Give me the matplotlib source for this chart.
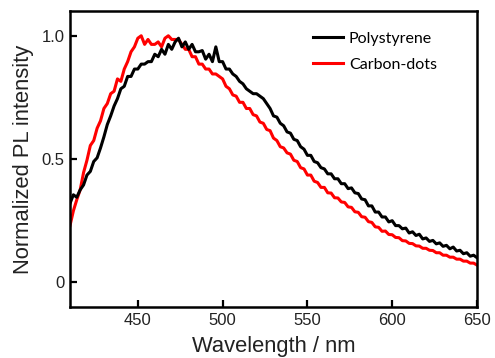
import numpy as np
import matplotlib
matplotlib.use("Agg")
import matplotlib.pyplot as plt

wavelength = np.arange(410, 651, 2)

polystyrene = [
    0.32, 0.355, 0.345, 0.375, 0.395, 0.435, 0.45, 0.49, 0.505, 0.545,      # 410-428
    0.59, 0.64, 0.675, 0.715, 0.745, 0.785, 0.795, 0.835, 0.835, 0.865,     # 430-448
    0.865, 0.885, 0.885, 0.895, 0.895, 0.925, 0.915, 0.945, 0.925, 0.965,   # 450-468
    0.945, 0.975, 0.99, 0.955, 0.975, 0.945, 0.965, 0.935, 0.935, 0.94,     # 470-488
    0.905, 0.925, 0.895, 0.955, 0.895, 0.895, 0.865, 0.865, 0.845, 0.835,   # 490-508
    0.815, 0.805, 0.785, 0.775, 0.765, 0.765, 0.755, 0.745, 0.725, 0.705,   # 510-528
    0.675, 0.67, 0.645, 0.635, 0.61, 0.605, 0.58, 0.575, 0.55, 0.54,        # 530-548
    0.515, 0.515, 0.49, 0.485, 0.465, 0.46, 0.44, 0.44, 0.42, 0.42,         # 550-568
    0.40, 0.40, 0.38, 0.383, 0.363, 0.36, 0.338, 0.335, 0.31, 0.31,         # 570-588
    0.285, 0.285, 0.265, 0.265, 0.245, 0.25, 0.23, 0.23, 0.217, 0.22,       # 590-608
    0.20, 0.205, 0.19, 0.195, 0.176, 0.18, 0.166, 0.17, 0.156, 0.16,        # 610-628
    0.146, 0.15, 0.136, 0.143, 0.127, 0.13, 0.116, 0.12, 0.106, 0.11,       # 630-648
    0.10,                                                                   # 650
]

carbon_dots = [
    0.23, 0.29, 0.335, 0.375, 0.445, 0.495, 0.555, 0.575, 0.625, 0.655,     # 410-428
    0.705, 0.725, 0.765, 0.775, 0.825, 0.815, 0.865, 0.895, 0.935, 0.955,   # 430-448
    0.99, 1.00, 0.965, 0.985, 0.965, 0.965, 0.975, 0.955, 0.99, 1.00,       # 450-468
    0.985, 0.985, 0.985, 0.965, 0.945, 0.945, 0.915, 0.915, 0.885, 0.885,   # 470-488
    0.865, 0.865, 0.845, 0.845, 0.835, 0.825, 0.795, 0.785, 0.76, 0.755,    # 490-508
    0.73, 0.73, 0.705, 0.705, 0.68, 0.675, 0.65, 0.645, 0.62, 0.615,        # 510-528
    0.585, 0.575, 0.55, 0.545, 0.525, 0.52, 0.495, 0.49, 0.465, 0.46,       # 530-548
    0.435, 0.435, 0.41, 0.405, 0.385, 0.385, 0.363, 0.362, 0.343, 0.342,    # 550-568
    0.326, 0.324, 0.306, 0.304, 0.286, 0.284, 0.266, 0.264, 0.246, 0.243,   # 570-588
    0.225, 0.223, 0.207, 0.208, 0.194, 0.193, 0.182, 0.181, 0.169, 0.168,   # 590-608
    0.158, 0.157, 0.148, 0.147, 0.138, 0.138, 0.13, 0.129, 0.12, 0.12,      # 610-628
    0.11, 0.11, 0.102, 0.102, 0.094, 0.094, 0.086, 0.086, 0.078, 0.078,     # 630-648
    0.07,                                                                   # 650
]

xticks = [450, 500, 550, 600, 650]
yticks = [0, 0.5, 1.0]
yticklabels = ["0", "0.5", "1.0"]

plt.rcParams['font.family'] = ['Liberation Sans', 'DejaVu Sans']

fig = plt.figure(figsize=(4.95, 3.58), dpi=100)
ax = fig.add_axes([0.1414, 0.1425, 0.8222, 0.8265])

l_red, = ax.plot(wavelength, carbon_dots, color='#ff0000', lw=2.2, label='Carbon-dots')
l_blk, = ax.plot(wavelength, polystyrene, color='black', lw=2.2, label='Polystyrene')

ax.set_xlim(410, 650)
ax.set_ylim(-0.1, 1.1)
ax.set_xticks(xticks)
ax.set_yticks(yticks)
ax.set_yticklabels(yticklabels)
ax.tick_params(direction='in', length=5, width=1.6, labelsize=12, colors='black',
               labelcolor='#222222', pad=4)
for s in ax.spines.values():
    s.set_linewidth(1.8)

ax.set_xlabel('Wavelength / nm', fontsize=15.8, labelpad=6, color='#222222')
ax.set_ylabel('Normalized PL intensity', fontsize=15.8, labelpad=5, color='#222222')

leg = ax.legend(handles=[l_blk, l_red], loc='upper left', frameon=False,
                prop={'family': 'Lato', 'size': 11.5}, handlelength=1.9,
                handletextpad=0.35, labelspacing=0.75, borderpad=0, borderaxespad=0,
                bbox_to_anchor=(0.597, 0.931))

fig.savefig('out.png', dpi=100)
